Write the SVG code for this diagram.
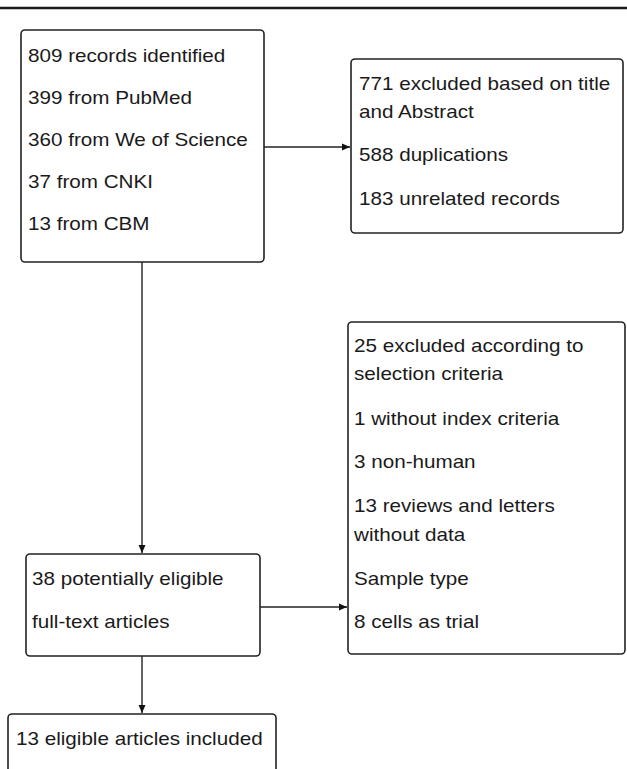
<svg xmlns="http://www.w3.org/2000/svg" width="627" height="769" viewBox="0 0 627 769">
<style>
.box{fill:#fff;stroke:#222;stroke-width:1.6}
.t{font-family:"Liberation Sans",Arial,sans-serif;font-size:17.5px;fill:#1a1a1a}
.c{stroke:#222;stroke-width:1.4;fill:none}
</style>
<defs>
<marker id="ah" markerWidth="10" markerHeight="10" refX="8" refY="4.5" orient="auto" markerUnits="userSpaceOnUse">
<path d="M0,1 L8,4.5 L0,8 Z" fill="#111"/>
</marker>
</defs>
<rect width="627" height="769" fill="#fff"/>
<line x1="0" y1="8" x2="627" y2="8" stroke="#1a1a1a" stroke-width="2.5"/>
<g id="connectors">
<line class="c" x1="264" y1="147" x2="350" y2="147" marker-end="url(#ah)"/>
<line class="c" x1="142" y1="262" x2="142" y2="553" marker-end="url(#ah)"/>
<line class="c" x1="260" y1="607" x2="347" y2="607" marker-end="url(#ah)"/>
<line class="c" x1="142" y1="656" x2="142" y2="713" marker-end="url(#ah)"/>
</g>
<g id="records">
<rect class="box" x="21" y="30" width="243" height="232" rx="4"/>
<g transform="translate(28,0) scale(1.18,1)">
<text class="t" x="0" y="62">809 records identified</text>
<text class="t" x="0" y="104">399 from PubMed</text>
<text class="t" x="0" y="146">360 from We of Science</text>
<text class="t" x="0" y="188">37 from CNKI</text>
<text class="t" x="0" y="230">13 from CBM</text>
</g>
</g>
<g id="excluded1">
<rect class="box" x="351" y="59" width="272" height="174" rx="4"/>
<g transform="translate(359,0) scale(1.18,1)">
<text class="t" x="0" y="90">771 excluded based on title</text>
<text class="t" x="0" y="118">and Abstract</text>
<text class="t" x="0" y="161">588 duplications</text>
<text class="t" x="0" y="205">183 unrelated records</text>
</g>
</g>
<g id="excluded2">
<rect class="box" x="348" y="322" width="277" height="332" rx="4"/>
<g transform="translate(354,0) scale(1.18,1)">
<text class="t" x="0" y="352">25 excluded according to</text>
<text class="t" x="0" y="380">selection criteria</text>
<text class="t" x="0" y="425">1 without index criteria</text>
<text class="t" x="0" y="468">3 non-human</text>
<text class="t" x="0" y="512">13 reviews and letters</text>
<text class="t" x="0" y="541">without data</text>
<text class="t" x="0" y="585">Sample type</text>
<text class="t" x="0" y="628">8 cells as trial</text>
</g>
</g>
<g id="eligible">
<rect class="box" x="26" y="554" width="234" height="102" rx="4"/>
<g transform="translate(32,0) scale(1.18,1)">
<text class="t" x="0" y="585">38 potentially eligible</text>
<text class="t" x="0" y="628">full-text articles</text>
</g>
</g>
<g id="included">
<rect class="box" x="8" y="714" width="268" height="70" rx="4"/>
<g transform="translate(16,0) scale(1.18,1)">
<text class="t" x="0" y="745">13 eligible articles included</text>
</g>
</g>
</svg>
